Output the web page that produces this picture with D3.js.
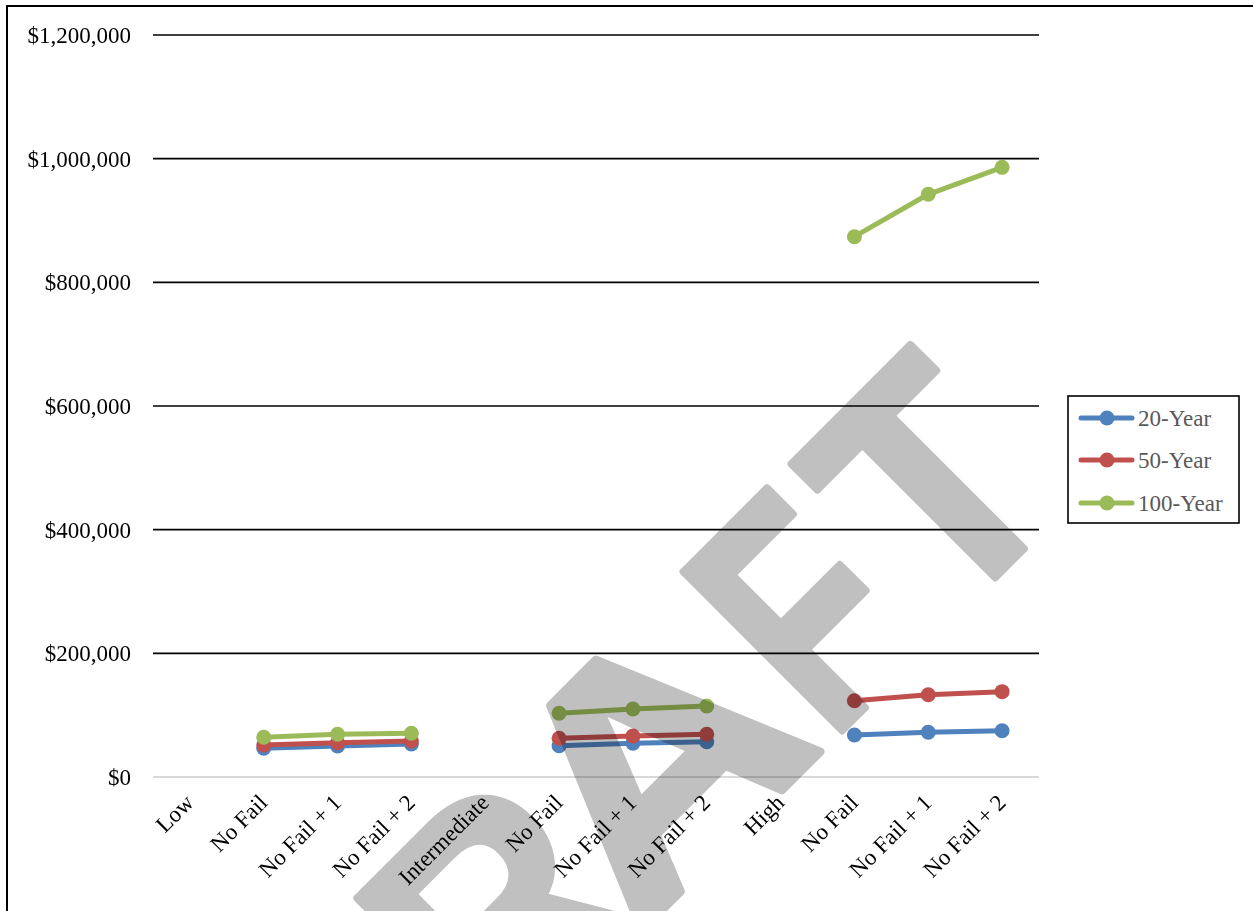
<!DOCTYPE html>
<html>
<head>
<meta charset="utf-8">
<script src="https://cdn.jsdelivr.net/npm/d3@7"></script>
<style>
  html, body { margin: 0; padding: 0; background: #fff; }
  svg { display: block; }
</style>
</head>
<body>
<svg id="chart" width="1253" height="911"></svg>
<script>
const categories = ["Low", "No Fail", "No Fail + 1", "No Fail + 2",
                    "Intermediate", "No Fail", "No Fail + 1", "No Fail + 2",
                    "High", "No Fail", "No Fail + 1", "No Fail + 2"];
const year20  = [null, 46400, 50100, 53400, null, 50600, 54500, 57100, null, 67900, 72300, 74900];
const year50  = [null, 51800, 55500, 58200, null, 62600, 66300, 69100, null, 123400, 133100, 138000];
const year100 = [null, 64200, 69100, 70700, null, 103000, 110000, 114800, null, 873800, 942400, 986000];
const seriesNames = ["20-Year", "50-Year", "100-Year"];
const seriesColors = ["#4f81bd", "#c0504d", "#9bbb59"];
const yTicks = [0, 200000, 400000, 600000, 800000, 1000000, 1200000];
const watermarkText = ["D", "R", "A", "F", "T"];

const series = [year20, year50, year100].map((vals, k) => ({
  name: seriesNames[k], color: seriesColors[k], values: vals
}));

const svg = d3.select("#chart");
const W = 1253, H = 911;
const plot = { left: 153, right: 1039, top: 35, bottom: 777 };

const x = d3.scaleBand().domain(d3.range(categories.length)).range([plot.left, plot.right]);
const cx = i => x(i) + x.bandwidth() / 2;
const y = d3.scaleLinear().domain([0, 1200000]).range([plot.bottom, plot.top]);

svg.append("rect").attr("width", W).attr("height", H).attr("fill", "#fff");

// gridlines
svg.append("g").selectAll("line").data(yTicks).join("line")
  .attr("x1", plot.left).attr("x2", plot.right)
  .attr("y1", d => y(d)).attr("y2", d => y(d))
  .attr("stroke", d => d === 0 ? "#d9d9d9" : "#000")
  .attr("stroke-width", d => d === 0 ? 2 : 1.6);

// y axis labels
const yAxis = svg.append("g").attr("transform", `translate(${plot.left},0)`)
  .call(d3.axisLeft(y).tickValues(yTicks).tickFormat(d3.format("$,")).tickSize(0).tickPadding(22));
yAxis.select(".domain").remove();
yAxis.selectAll("text")
  .attr("font-family", "'Liberation Serif', 'Times New Roman', serif")
  .attr("font-size", 23).attr("fill", "#000");

// x axis labels
const xAxis = svg.append("g").attr("transform", `translate(0,${plot.bottom})`)
  .call(d3.axisBottom(x).tickFormat(i => categories[i]).tickSize(0));
xAxis.select(".domain").remove();
xAxis.selectAll("text")
  .attr("font-family", "'Liberation Serif', 'Times New Roman', serif")
  .attr("font-size", 23).attr("fill", "#000")
  .attr("text-anchor", "end")
  .attr("x", 0).attr("y", 0).attr("dy", 0)
  .attr("transform", "translate(5,27) rotate(-45)");

// series lines
const line = d3.line().defined(d => d.v != null).x(d => cx(d.i)).y(d => y(d.v));
const sg = svg.append("g");
series.forEach(s => {
  const pts = s.values.map((v, i) => ({ i, v }));
  sg.append("path").attr("d", line(pts))
    .attr("fill", "none").attr("stroke", s.color).attr("stroke-width", 5)
    .attr("stroke-linejoin", "round").attr("stroke-linecap", "round");
  sg.append("g").selectAll("circle").data(pts.filter(d => d.v != null)).join("circle")
    .attr("cx", d => cx(d.i)).attr("cy", d => y(d.v)).attr("r", 7.5)
    .attr("fill", s.color);
});

// watermark (letters fitted to their extents along a -45° baseline)
const wmFont = "'Liberation Sans', Arial, sans-serif";
const ctx = document.createElement("canvas").getContext("2d");
let wmSize = 320;
ctx.font = `bold ${wmSize}px ${wmFont}`;
const capAsc = ctx.measureText("T").actualBoundingBoxAscent || 229;
wmSize = wmSize * 229 / capAsc;
ctx.font = `bold ${wmSize}px ${wmFont}`;
const wmSpans = [[-620, -415], [-388, -190], [-211, 55], [73, 203], [224, 407]];
const wm = svg.append("g")
  .attr("transform", "translate(789,789) rotate(-45)")
  .style("mix-blend-mode", "multiply");
watermarkText.forEach((ch, k) => {
  const m = ctx.measureText(ch);
  const L = m.actualBoundingBoxLeft, R = m.actualBoundingBoxRight;
  const [a, b] = wmSpans[k];
  const sx = (b - a - 8) / (L + R);
  const t = a + 4 + L * sx;
  wm.append("text")
    .attr("transform", `translate(${t},-4) scale(${sx},1)`)
    .attr("font-family", wmFont).attr("font-weight", "bold").attr("font-size", wmSize)
    .attr("fill", "#c0c0c0").attr("stroke", "#c0c0c0").attr("stroke-width", 8)
    .attr("stroke-linejoin", "round")
    .text(ch);
});

// legend
const lg = svg.append("g");
lg.append("rect").attr("x", 1068).attr("y", 396).attr("width", 171).attr("height", 127)
  .attr("fill", "#fff").attr("stroke", "#000").attr("stroke-width", 1.6);
const legendY = [418, 460, 503];
series.forEach((s, k) => {
  const gy = legendY[k];
  lg.append("line").attr("x1", 1081).attr("x2", 1132).attr("y1", gy).attr("y2", gy)
    .attr("stroke", s.color).attr("stroke-width", 5).attr("stroke-linecap", "round");
  lg.append("circle").attr("cx", 1107).attr("cy", gy).attr("r", 7.5).attr("fill", s.color);
  lg.append("text").attr("x", 1138).attr("y", gy + 8)
    .attr("font-family", "'Liberation Serif', 'Times New Roman', serif")
    .attr("font-size", 23).attr("fill", "#595959").text(s.name);
});

// outer border
svg.append("rect").attr("x", 7).attr("y", 6).attr("width", 1252).attr("height", 920)
  .attr("fill", "none").attr("stroke", "#000").attr("stroke-width", 2);
</script>
</body>
</html>
